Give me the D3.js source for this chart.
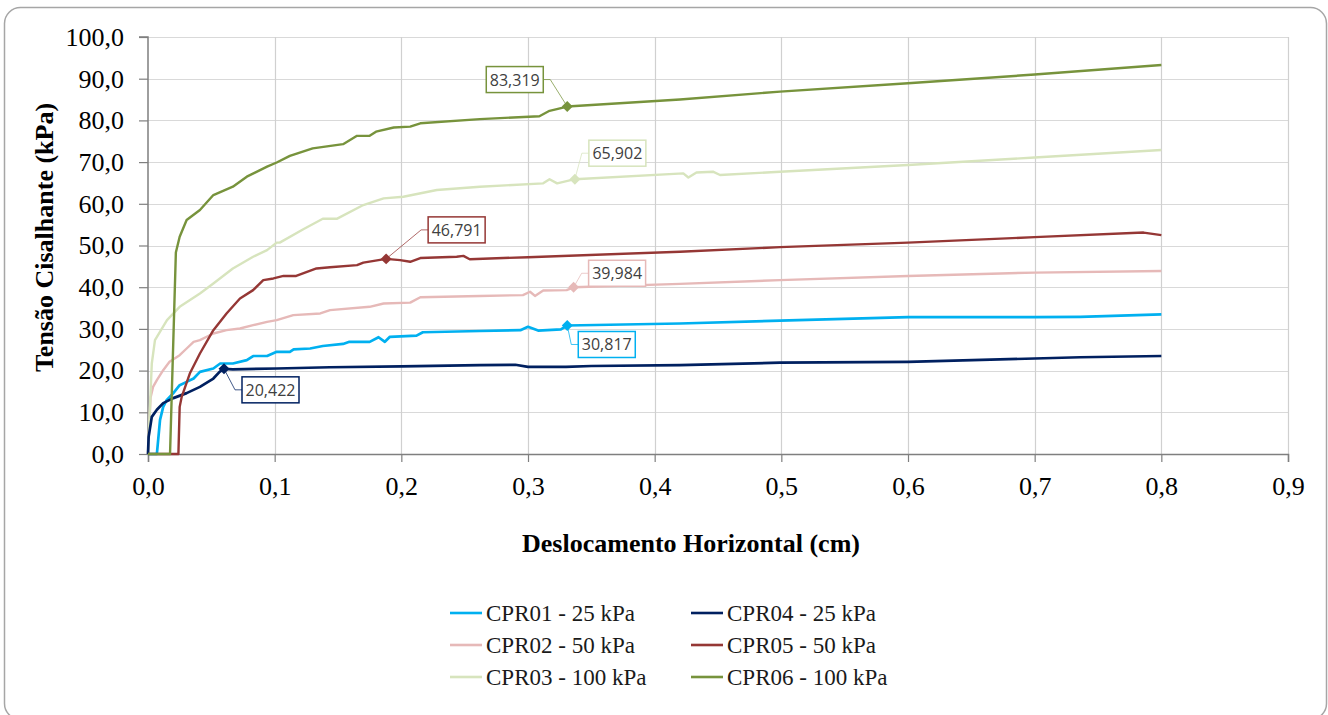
<!DOCTYPE html>
<html lang="pt">
<head>
<meta charset="utf-8">
<script src="https://cdn.jsdelivr.net/npm/d3@7"></script>
<style>
  html, body { margin: 0; padding: 0; background: #ffffff; }
  svg { display: block; }
  .tick text { font-family: "Liberation Serif", "Times New Roman", serif; fill: #000; }
</style>
</head>
<body>
<svg id="chart" width="1328" height="715"></svg>
<script>
// Shear tests: horizontal displacement (cm) vs. shear stress (kPa)
const seriesNames = ["CPR01 - 25 kPa", "CPR02 - 50 kPa", "CPR03 - 100 kPa",
                     "CPR04 - 25 kPa", "CPR05 - 50 kPa", "CPR06 - 100 kPa"];
const seriesColors = ["#00B0F0", "#E6B9B8", "#D7E4BD", "#002060", "#953735", "#77933C"];

const cpr01 = [[0,0],[0.007,0],[0.0095,8.2],[0.012,11.3],[0.0147,12.9],[0.02,14.6],[0.025,16.5],[0.0305,17.3],
  [0.036,18.1],[0.041,19.7],[0.0516,20.5],[0.057,21.7],[0.067,21.7],[0.078,22.5],[0.083,23.5],[0.094,23.5],
  [0.1016,24.5],[0.112,24.5],[0.115,25.1],[0.128,25.3],[0.138,25.9],[0.154,26.4],[0.159,26.9],[0.175,26.9],
  [0.182,28.0],[0.187,26.9],[0.191,28.1],[0.212,28.4],[0.217,29.2],[0.262,29.5],[0.294,29.7],[0.300,30.5],
  [0.308,29.6],[0.326,29.9],[0.331,30.817],[0.42,31.3],[0.499,32.0],[0.6,32.8],[0.7,32.8],[0.736,32.9],[0.8,33.5]];

const cpr02 = [[0,0],[0.002,13.5],[0.004,16.1],[0.007,17.7],[0.012,20.1],[0.017,22.1],[0.025,23.7],[0.0305,25.3],
  [0.036,26.9],[0.041,27.3],[0.0516,28.9],[0.062,29.7],[0.0726,30.1],[0.083,30.9],[0.094,31.7],[0.1016,32.1],
  [0.1147,33.3],[0.136,33.7],[0.1437,34.5],[0.175,35.3],[0.186,36.1],[0.207,36.3],[0.215,37.6],[0.262,37.9],
  [0.296,38.1],[0.3016,38.9],[0.3055,37.9],[0.312,39.2],[0.3305,39.3],[0.336,39.984],[0.42,40.8],[0.499,41.7],
  [0.6,42.7],[0.673,43.3],[0.7,43.5],[0.8,43.9]];

const cpr03 = [[0,0],[0.003,21.7],[0.0055,27.3],[0.015,32.1],[0.025,35.3],[0.041,38.5],[0.0516,40.9],[0.067,44.5],
  [0.083,47.3],[0.094,48.9],[0.1016,50.7],[0.104,50.7],[0.1226,53.9],[0.138,56.4],[0.149,56.4],[0.170,59.7],
  [0.186,61.3],[0.2016,61.7],[0.228,63.3],[0.262,64.1],[0.312,64.9],[0.317,65.9],[0.323,64.9],[0.337,65.902],
  [0.4226,67.3],[0.4266,66.3],[0.433,67.5],[0.446,67.7],[0.4516,66.9],[0.499,67.7],[0.6,69.3],[0.7,71.1],[0.8,72.9]];

const cpr04 = [[0,0],[0.0005,4.1],[0.003,8.9],[0.007,10.6],[0.012,12.2],[0.02,13.4],[0.0305,14.6],[0.041,16.1],
  [0.0516,18.1],[0.0565,19.7],[0.060,20.422],[0.067,20.3],[0.1016,20.5],[0.1437,20.8],[0.2,21.0],[0.262,21.3],
  [0.29,21.4],[0.3,20.9],[0.33,20.9],[0.35,21.1],[0.42,21.3],[0.499,21.9],[0.6,22.1],[0.7,22.9],[0.736,23.2],[0.8,23.5]];

const cpr05 = [[0,0],[0.024,0],[0.025,11.3],[0.0266,13.7],[0.033,19.3],[0.041,24.1],[0.0516,29.7],[0.062,33.7],
  [0.0726,37.3],[0.083,39.3],[0.091,41.7],[0.099,42.1],[0.107,42.7],[0.117,42.7],[0.133,44.5],[0.1437,44.8],
  [0.165,45.3],[0.170,45.9],[0.188,46.791],[0.199,46.5],[0.207,46.1],[0.215,47.0],[0.2437,47.3],[0.249,47.5],
  [0.254,46.7],[0.3,47.2],[0.42,48.5],[0.499,49.6],[0.6,50.7],[0.7,52.0],[0.786,53.1],[0.8,52.5]];

const cpr06 = [[0,0],[0.0174,0],[0.022,48.3],[0.025,52.1],[0.0305,56.1],[0.041,58.5],[0.0516,62.1],[0.067,64.1],
  [0.078,66.5],[0.094,68.9],[0.1016,69.9],[0.112,71.5],[0.130,73.3],[0.154,74.3],[0.165,76.3],[0.175,76.3],
  [0.18,77.3],[0.194,78.3],[0.207,78.5],[0.215,79.3],[0.262,80.3],[0.309,81.0],[0.317,82.3],[0.331,83.319],
  [0.42,85.0],[0.499,86.9],[0.6,88.9],[0.7,91.0],[0.8,93.3]];

// Order of drawing and legend: left column CPR01-03, right column CPR04-06
const seriesData = [cpr01, cpr02, cpr03, cpr04, cpr05, cpr06];

// Labelled points: series index, displacement, stress
const calloutSeries = [3, 0, 1, 4, 2, 5];
const calloutX      = [0.060, 0.331, 0.336, 0.188, 0.337, 0.331];
const calloutValues = [20.422, 30.817, 39.984, 46.791, 65.902, 83.319];

const xTicks = [0, 0.1, 0.2, 0.3, 0.4, 0.5, 0.6, 0.7, 0.8, 0.9];
const xTickLabels = ["0,0","0,1","0,2","0,3","0,4","0,5","0,6","0,7","0,8","0,9"];
const yTicks = [0, 10, 20, 30, 40, 50, 60, 70, 80, 90, 100];
const yTickLabels = ["0,0","10,0","20,0","30,0","40,0","50,0","60,0","70,0","80,0","90,0","100,0"];

// ---- layout ----
const W = 1328, H = 715;
const plot = { left: 148, right: 1288, top: 37, bottom: 454 };
// box offset (left, top) relative to each labelled point, and which side the leader attaches
const calloutLayout = [
  { dx: 18, dy: 8,   side: "left"  },
  { dx: 11, dy: 6,   side: "left"  },
  { dx: 15, dy: -27, side: "left"  },
  { dx: 42, dy: -42, side: "left"  },
  { dx: 14, dy: -39, side: "left"  },
  { dx: -81, dy: -40, side: "right" }
];

const svg = d3.select("#chart");
const x = d3.scaleLinear().domain([0, 0.9]).range([plot.left, plot.right]);
const y = d3.scaleLinear().domain([0, 100]).range([plot.bottom, plot.top]);

// outer frame
svg.append("rect")
  .attr("x", 4.5).attr("y", 7.5).attr("width", 1322).attr("height", 712)
  .attr("rx", 16).attr("ry", 16)
  .attr("fill", "#fff").attr("stroke", "#A6A6A6").attr("stroke-width", 1.5);

// gridlines
const grid = svg.append("g");
grid.selectAll("line.h").data(yTicks.slice(1)).join("line")
  .attr("x1", plot.left).attr("x2", plot.right)
  .attr("y1", d => Math.round(y(d)) + 0.5).attr("y2", d => Math.round(y(d)) + 0.5)
  .attr("stroke", "#D9D9D9").attr("stroke-width", 1.2);
grid.selectAll("line.v").data(xTicks.slice(1)).join("line")
  .attr("y1", plot.top).attr("y2", plot.bottom)
  .attr("x1", d => Math.round(x(d)) + 0.5).attr("x2", d => Math.round(x(d)) + 0.5)
  .attr("stroke", "#D0D0D0").attr("stroke-width", 1.2);

// axes
const yAxis = svg.append("g").attr("transform", `translate(${plot.left},0)`)
  .call(d3.axisLeft(y).tickValues(yTicks).tickFormat((d, i) => yTickLabels[i]).tickSize(9).tickPadding(15));
const xAxis = svg.append("g").attr("transform", `translate(0,${plot.bottom})`)
  .call(d3.axisBottom(x).tickValues(xTicks).tickFormat((d, i) => xTickLabels[i]).tickSize(8).tickPadding(15));
[yAxis, xAxis].forEach(g => {
  g.select(".domain").attr("stroke", "#7F7F7F").attr("stroke-width", 1.5);
  g.selectAll(".tick line").attr("stroke", "#7F7F7F").attr("stroke-width", 1.2);
  g.selectAll(".tick text").attr("font-size", 26).attr("fill", "#000");
});
yAxis.select(".domain").attr("d", `M-9,${plot.top}H0V${plot.bottom}`);

// axis titles
svg.append("text")
  .attr("x", 691).attr("y", 552)
  .attr("text-anchor", "middle")
  .attr("font-family", "'Liberation Serif', 'Times New Roman', serif")
  .attr("font-weight", "bold").attr("font-size", 26)
  .text("Deslocamento Horizontal (cm)");
svg.append("text")
  .attr("transform", `translate(53,${(103 + 372) / 2}) rotate(-90)`)
  .attr("text-anchor", "middle")
  .attr("font-family", "'Liberation Serif', 'Times New Roman', serif")
  .attr("font-weight", "bold").attr("font-size", 26)
  .text("Tensão Cisalhante (kPa)");

// series lines
const line = d3.line().x(d => x(d[0])).y(d => y(d[1]));
svg.append("g").selectAll("path").data(seriesData).join("path")
  .attr("d", line)
  .attr("fill", "none")
  .attr("stroke", (d, i) => seriesColors[i])
  .attr("stroke-width", (d, i) => (i === 0 || i === 3) ? 2.7 : 2.4)
  .attr("stroke-linejoin", "round");

// callouts
const cg = svg.append("g");
const boxW = 57, boxH = 26;
calloutValues.forEach((v, k) => {
  const si = calloutSeries[k];
  const col = seriesColors[si];
  const px = x(calloutX[k]), py = y(v);
  const L = calloutLayout[k];
  const bx = px + L.dx, by = py + L.dy;
  const my = by + boxH / 2;
  const pts = L.side === "left"
    ? [[px, py], [bx - 7, my], [bx, my]]
    : [[px, py], [bx + boxW + 7, my], [bx + boxW, my]];
  cg.append("path").attr("d", d3.line()(pts))
    .attr("fill", "none").attr("stroke", col).attr("stroke-opacity", 0.75).attr("stroke-width", 1);
  cg.append("path")
    .attr("d", d3.symbol().type(d3.symbolSquare).size(60)())
    .attr("transform", `translate(${px},${py}) rotate(45)`)
    .attr("fill", col);
  cg.append("rect").attr("x", bx).attr("y", by).attr("width", boxW).attr("height", boxH)
    .attr("fill", "#fff").attr("stroke", col).attr("stroke-width", 1.5);
  cg.append("text").attr("x", bx + boxW / 2).attr("y", my + 6)
    .attr("text-anchor", "middle")
    .attr("font-family", "'Open Sans', 'Liberation Sans', sans-serif")
    .attr("font-size", 16).attr("fill", "#404040")
    .text(d3.format(".3f")(v).replace(".", ","));
});

// legend
const lg = svg.append("g");
seriesNames.forEach((name, i) => {
  const colX = i < 3 ? 450 : 691;
  const rowY = 613 + (i % 3) * 32;
  lg.append("line").attr("x1", colX).attr("x2", colX + 32)
    .attr("y1", rowY).attr("y2", rowY)
    .attr("stroke", seriesColors[i]).attr("stroke-width", 2.6);
  lg.append("text").attr("x", colX + 36).attr("y", rowY + 8)
    .attr("font-family", "'Liberation Serif', 'Times New Roman', serif")
    .attr("font-size", 23).attr("fill", "#1a1a1a")
    .text(name);
});
</script>
</body>
</html>
